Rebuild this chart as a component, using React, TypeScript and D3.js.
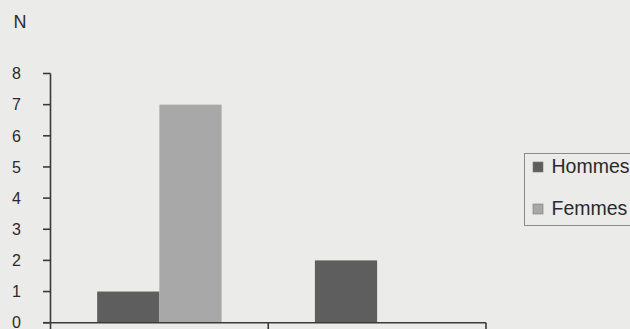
import React from "react";
import * as d3 from "d3";

const categories = ["Groupe 1", "Groupe 2"];
const seriesNames = ["Hommes", "Femmes"];
const hommes = [1, 2];
const femmes = [7, 0];
const yTicks = [0, 1, 2, 3, 4, 5, 6, 7, 8];
const yLabel = "N";

const W = 630;
const H = 329;
const colors: Record<string, string> = { Hommes: "#5e5e5e", Femmes: "#a8a8a8" };
const font = "Liberation Sans, Arial, sans-serif";

export default function App() {
  const left = 50.5;
  const right = 486;
  const y = d3.scaleLinear().domain([0, 8]).range([322.7, 73.5]);
  const x0 = d3.scaleBand<string>().domain(categories).range([left, right]).paddingInner(0).paddingOuter(0);
  const x1 = d3
    .scaleBand<string>()
    .domain(seriesNames)
    .range([0, x0.bandwidth()])
    .paddingInner(0)
    .paddingOuter(0.75);
  const values: Record<string, number[]> = { Hommes: hommes, Femmes: femmes };
  const axisColor = "#3a3a3a";
  const y0 = y(0);

  return (
    <svg
      width={W}
      height={H}
      style={{ position: "absolute", left: 0, top: 0, background: "#ebebea" }}
    >
      <rect x={0} y={0} width={W} height={H} fill="#ebebea" />
      {/* bars */}
      {categories.map((c, i) =>
        seriesNames.map((s) => {
          const v = values[s][i];
          if (!v) return null;
          return (
            <rect
              key={c + s}
              x={(x0(c) ?? 0) + (x1(s) ?? 0)}
              y={y(v)}
              width={x1.bandwidth()}
              height={y0 - y(v)}
              fill={colors[s]}
            />
          );
        })
      )}
      {/* y axis */}
      <line x1={left} x2={left} y1={y(8)} y2={H} stroke={axisColor} strokeWidth={1.6} />
      {yTicks.map((t) => (
        <g key={t}>
          <line x1={43} x2={left} y1={y(t)} y2={y(t)} stroke={axisColor} strokeWidth={1.6} />
          <text
            x={21}
            y={y(t)}
            dy="0.36em"
            textAnchor="end"
            fontFamily={font}
            fontSize={16}
            fill="#2a2a2a"
          >
            {t}
          </text>
        </g>
      ))}
      <text x={13.5} y={28.3} fontFamily={font} fontSize={18} fill="#2a2a2a">
        {yLabel}
      </text>
      {/* x axis */}
      <line x1={43} x2={right} y1={y0} y2={y0} stroke={axisColor} strokeWidth={1.6} />
      {categories.map((c) => (
        <line
          key={c}
          x1={(x0(c) ?? 0) + x0.bandwidth()}
          x2={(x0(c) ?? 0) + x0.bandwidth()}
          y1={y0}
          y2={H}
          stroke={axisColor}
          strokeWidth={1.6}
        />
      ))}
      {/* legend */}
      <rect x={524.5} y={153.5} width={120} height={72} fill="none" stroke="#8a8a8a" strokeWidth={1} />
      {seriesNames.map((s, i) => (
        <g key={s} transform={`translate(533, ${162 + i * 42})`}>
          <rect x={0} y={0} width={10} height={10} fill={colors[s]} stroke="#777" strokeWidth={0.6} />
          <text x={18.5} y={11.3} fontFamily={font} fontSize={19.5} fill="#2a2a2a">
            {s}
          </text>
        </g>
      ))}
    </svg>
  );
}
